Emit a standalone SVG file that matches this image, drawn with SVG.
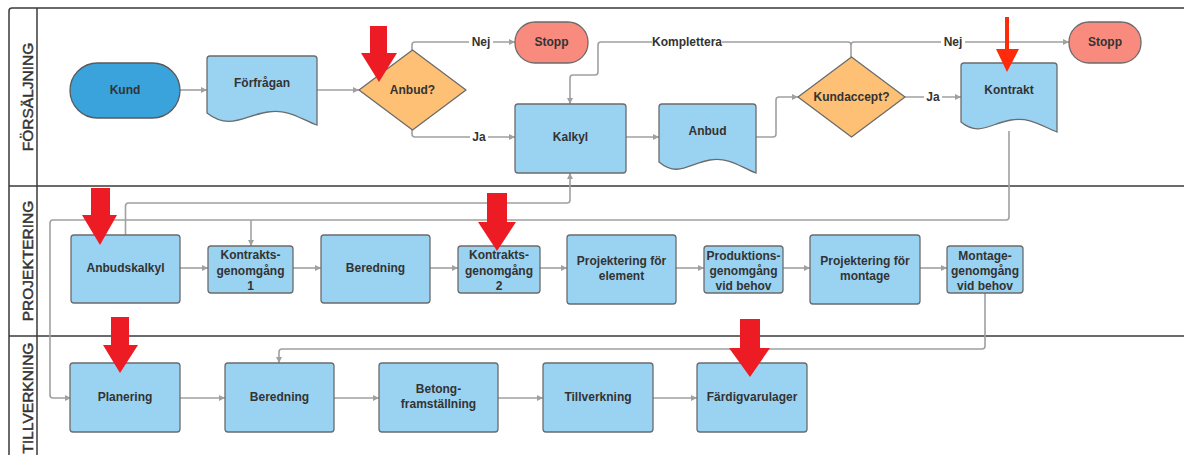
<svg xmlns="http://www.w3.org/2000/svg" width="1184" height="455" viewBox="0 0 1184 455">
  <style>
    .lane { fill: none; stroke: #3a3a3a; stroke-width: 1.5; }
    .lanelabel { font-family: "Liberation Sans", Arial, sans-serif; font-size: 15.5px; fill: #333; stroke: #333; stroke-width: 0.45; text-anchor: middle; }
    .proc { fill: #9ad2f2; stroke: #6b6b6b; stroke-width: 1.3; }
    .term { fill: #3aa3dc; stroke: #5a5a5a; stroke-width: 1.3; }
    .stop { fill: #f88b7e; stroke: #6b6b6b; stroke-width: 1.3; }
    .dec { fill: #fdc074; stroke: #6b6b6b; stroke-width: 1.3; }
    .t { font-family: "Liberation Sans", Arial, sans-serif; font-size: 12px; font-weight: bold; fill: #333; text-anchor: middle; dominant-baseline: central; }
    .conn { fill: none; stroke: #a0a0a0; stroke-width: 1.6; marker-end: url(#arr); }
    .lblbg { fill: #fff; }
    .red { fill: #ed1c24; }
  </style>
  <defs>
    <marker id="arr" viewBox="0 0 10 10" refX="10" refY="5" markerWidth="6" markerHeight="6" markerUnits="userSpaceOnUse" orient="auto">
      <path d="M0,0 L10,5 L0,10 Z" fill="#a0a0a0"/>
    </marker>
  </defs>

  <rect width="1184" height="455" fill="#fff"/>

  <!-- swimlane frame -->
  <g id="lanes">
    <path class="lane" d="M1200,8 H12 Q9,8 9,11 V470"/>
    <line class="lane" x1="37" y1="8" x2="37" y2="470"/>
    <line class="lane" x1="9" y1="186" x2="1200" y2="186"/>
    <line class="lane" x1="9" y1="336" x2="1200" y2="336"/>
    <text class="lanelabel" transform="translate(33,97) rotate(-90)">FÖRSÄLJNING</text>
    <text class="lanelabel" transform="translate(33,261) rotate(-90)">PROJEKTERING</text>
    <text class="lanelabel" transform="translate(33,398) rotate(-90)">TILLVERKNING</text>
  </g>

  <!-- connectors -->
  <g id="connectors">
    <path class="conn" d="M180,90 H207"/>
    <path class="conn" d="M317,90 H359"/>
    <path class="conn" d="M412,50 V45 Q412,42 415,42 H515"/>
    <path class="conn" d="M412,130 V134 Q412,137 415,137 H515"/>
    <path class="conn" d="M626,137 H659"/>
    <path class="conn" d="M756,137 H773 Q776,137 776,134 V100 Q776,97 779,97 H798"/>
    <path class="conn" d="M905,97 H961"/>
    <path class="conn" d="M851,57 V45 Q851,42 854,42 H1069"/>
    <path class="conn" d="M851,45 Q851,42 848,42 H601 Q598,42 598,45 V72 Q598,75 595,75 H573 Q570,75 570,78 V104"/>
    <path class="conn" d="M1009,131 V217 Q1009,220 1006,220 H53 Q50,220 50,223 V395 Q50,398 53,398 H71"/>
    <path class="conn" d="M251,220 V246"/>
    <path class="conn" d="M125.5,235 V206 Q125.5,203 128.5,203 H567 Q570,203 570,200 V173"/>
    <path class="conn" d="M985,293 V346 Q985,349 982,349 H282 Q279,349 279,352 V363"/>
    <path class="conn" d="M180,268 H208"/>
    <path class="conn" d="M293,268 H321"/>
    <path class="conn" d="M430,268 H458"/>
    <path class="conn" d="M540,268 H567"/>
    <path class="conn" d="M676,268 H704"/>
    <path class="conn" d="M783,268 H810"/>
    <path class="conn" d="M920,268 H947"/>
    <path class="conn" d="M180,398 H225"/>
    <path class="conn" d="M334,398 H379"/>
    <path class="conn" d="M498,398 H543"/>
    <path class="conn" d="M653,398 H697"/>
    <!-- branch labels -->
    <rect class="lblbg" x="469" y="35" width="24" height="14"/>
    <text class="t" x="481" y="42">Nej</text>
    <rect class="lblbg" x="470" y="130" width="18" height="14"/>
    <text class="t" x="479" y="137">Ja</text>
    <rect class="lblbg" x="652" y="35" width="70" height="14"/>
    <text class="t" x="687" y="42">Komplettera</text>
    <rect class="lblbg" x="941" y="35" width="24" height="14"/>
    <text class="t" x="953" y="42">Nej</text>
    <rect class="lblbg" x="924" y="90" width="18" height="14"/>
    <text class="t" x="933" y="97">Ja</text>
  </g>

  <!-- FÖRSÄLJNING -->
  <g id="kund">
    <rect class="term" x="70" y="63" width="110" height="55" rx="27.5"/>
    <text class="t" x="125" y="90">Kund</text>
  </g>
  <g id="forfragan">
    <path class="proc" d="M210,56 H314 Q317,56 317,59 V125 C300,119 290,109 268,112 C245,115 230,131 207,113 V59 Q207,56 210,56 Z"/>
    <text class="t" x="262" y="83">Förfrågan</text>
  </g>
  <g id="anbud-beslut">
    <path class="dec" d="M412.5,50 L466,90 L412.5,130 L359,90 Z" stroke-linejoin="round"/>
    <text class="t" x="412.5" y="90">Anbud?</text>
  </g>
  <g id="stopp1">
    <rect class="stop" x="515" y="22" width="73" height="41" rx="20"/>
    <text class="t" x="551.5" y="42">Stopp</text>
  </g>
  <g id="kalkyl">
    <rect class="proc" x="515" y="104" width="111" height="69" rx="3"/>
    <text class="t" x="570.5" y="137">Kalkyl</text>
  </g>
  <g id="anbud">
    <path class="proc" d="M662,104 H753 Q756,104 756,107 V173 C740,167 730,157 710,160 C690,163 678,178 659,162 V107 Q659,104 662,104 Z"/>
    <text class="t" x="707.5" y="131">Anbud</text>
  </g>
  <g id="kundaccept">
    <path class="dec" d="M851.5,57 L905,97 L851.5,137 L798,97 Z" stroke-linejoin="round"/>
    <text class="t" x="851.5" y="97">Kundaccept?</text>
  </g>
  <g id="kontrakt">
    <path class="proc" d="M964,63 H1054 Q1057,63 1057,66 V132 C1041,126 1031,117 1011,120 C991,123 979,137 961,122 V66 Q961,63 964,63 Z"/>
    <text class="t" x="1009" y="90">Kontrakt</text>
  </g>
  <g id="stopp2">
    <rect class="stop" x="1069" y="22" width="72" height="41" rx="20"/>
    <text class="t" x="1105" y="42">Stopp</text>
  </g>

  <!-- PROJEKTERING -->
  <g id="anbudskalkyl">
    <rect class="proc" x="71" y="235" width="109" height="68" rx="3"/>
    <text class="t" x="125.5" y="268">Anbudskalkyl</text>
  </g>
  <g id="kontraktsgenomgang1">
    <rect class="proc" x="208" y="246" width="85" height="47" rx="3"/>
    <text class="t" x="250.5" y="255">Kontrakts-</text>
    <text class="t" x="250.5" y="271">genomgång</text>
    <text class="t" x="250.5" y="286">1</text>
  </g>
  <g id="beredning1">
    <rect class="proc" x="321" y="235" width="109" height="68" rx="3"/>
    <text class="t" x="375.5" y="268">Beredning</text>
  </g>
  <g id="kontraktsgenomgang2">
    <rect class="proc" x="458" y="246" width="82" height="47" rx="3"/>
    <text class="t" x="499" y="255">Kontrakts-</text>
    <text class="t" x="499" y="271">genomgång</text>
    <text class="t" x="499" y="286">2</text>
  </g>
  <g id="projektering-element">
    <rect class="proc" x="567" y="235" width="109" height="69" rx="3"/>
    <text class="t" x="621.5" y="261">Projektering för</text>
    <text class="t" x="621.5" y="276">element</text>
  </g>
  <g id="produktionsgenomgang">
    <rect class="proc" x="704" y="246" width="79" height="47" rx="3"/>
    <text class="t" x="743.5" y="256">Produktions-</text>
    <text class="t" x="743.5" y="271">genomgång</text>
    <text class="t" x="743.5" y="286">vid behov</text>
  </g>
  <g id="projektering-montage">
    <rect class="proc" x="810" y="235" width="110" height="69" rx="3"/>
    <text class="t" x="865" y="261">Projektering för</text>
    <text class="t" x="865" y="276">montage</text>
  </g>
  <g id="montagegenomgang">
    <rect class="proc" x="947" y="246" width="76" height="47" rx="3"/>
    <text class="t" x="985" y="256">Montage-</text>
    <text class="t" x="985" y="271">genomgång</text>
    <text class="t" x="985" y="286">vid behov</text>
  </g>

  <!-- TILLVERKNING -->
  <g id="planering">
    <rect class="proc" x="70" y="363" width="110" height="69" rx="3"/>
    <text class="t" x="125" y="397">Planering</text>
  </g>
  <g id="beredning2">
    <rect class="proc" x="225" y="363" width="109" height="69" rx="3"/>
    <text class="t" x="279.5" y="397">Beredning</text>
  </g>
  <g id="betongframstallning">
    <rect class="proc" x="379" y="363" width="119" height="69" rx="3"/>
    <text class="t" x="438.5" y="389">Betong-</text>
    <text class="t" x="438.5" y="404">framställning</text>
  </g>
  <g id="tillverkning">
    <rect class="proc" x="543" y="363" width="110" height="69" rx="3"/>
    <text class="t" x="598" y="397">Tillverkning</text>
  </g>
  <g id="fardigvarulager">
    <rect class="proc" x="697" y="363" width="110" height="69" rx="3"/>
    <text class="t" x="752" y="397">Färdigvarulager</text>
  </g>

  <!-- highlight arrows -->
  <g id="markers">
    <polygon class="red" points="370,26 387,26 387,53 397,53 379,82 361,53 370,53"/>
    <polygon fill="#ff2a0a" points="1005,17 1009,17 1009,49 1019,49 1007,72 996,49 1005,49"/>
    <polygon class="red" points="91,188 110,188 110,215 117,215 100,245 82,215 91,215"/>
    <polygon class="red" points="487,193 507,193 507,222 516,222 497,251 478,222 487,222"/>
    <polygon class="red" points="111,317 129,317 129,345 138,345 120,373 103,345 111,345"/>
    <polygon class="red" points="740,319 760,319 760,348 770,348 750,377 729,348 740,348"/>
  </g>
</svg>
